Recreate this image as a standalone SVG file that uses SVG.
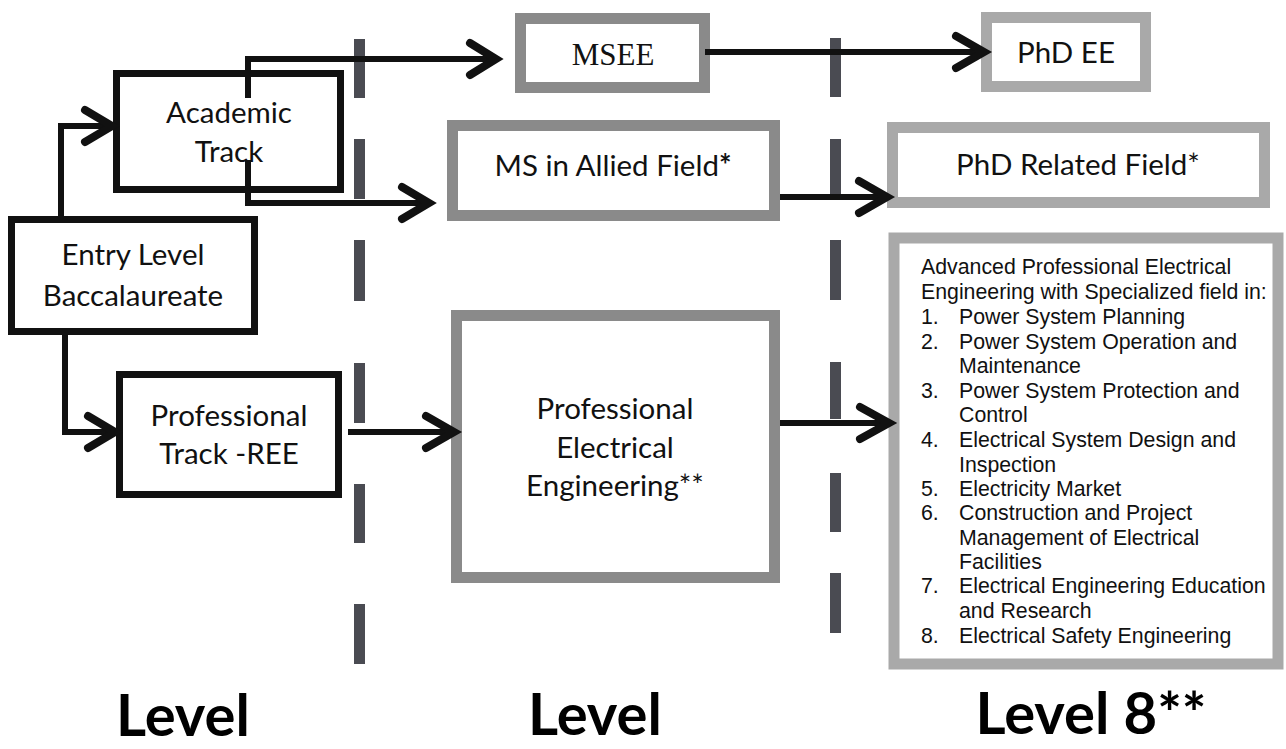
<svg xmlns="http://www.w3.org/2000/svg" width="1286" height="749" viewBox="0 0 1286 749">
<style>
.bk{fill:#fff;stroke:#111;stroke-width:7}
.gd{fill:#fff;stroke:#8a8a8a;stroke-width:11}
.gl{fill:#fff;stroke:#a9a9a9;stroke-width:11}
.t{font-family:Lato,"Liberation Sans",sans-serif;font-size:29.5px;fill:#111;text-anchor:middle}
.ts{font-family:"Liberation Serif",serif;font-size:31px;fill:#111;text-anchor:middle}
.ta{font-family:"Liberation Sans",Arial,sans-serif;font-size:21.3px;fill:#111}
.lv{font-family:Lato,"Liberation Sans",sans-serif;font-weight:bold;font-size:58px;fill:#000;text-anchor:middle}
.ln{fill:none;stroke:#111;stroke-width:6}
.ah{fill:none;stroke:#111;stroke-width:8;stroke-linecap:round;stroke-linejoin:miter}
.dash{fill:#4a4b52}
</style>
<rect width="1286" height="749" fill="#fff"/>
<g id="dividers">
<rect class="dash" x="354" y="39" width="11" height="59"/>
<rect class="dash" x="354" y="139" width="11" height="60"/>
<rect class="dash" x="354" y="240" width="11" height="61"/>
<rect class="dash" x="354" y="363" width="11" height="60"/>
<rect class="dash" x="354" y="484" width="11" height="59"/>
<rect class="dash" x="354" y="604" width="11" height="60"/>
<rect class="dash" x="830" y="38" width="11" height="59"/>
<rect class="dash" x="830" y="139" width="11" height="61"/>
<rect class="dash" x="830" y="240" width="11" height="60"/>
<rect class="dash" x="830" y="362" width="11" height="57"/>
<rect class="dash" x="830" y="473" width="11" height="59"/>
<rect class="dash" x="830" y="573" width="11" height="60"/>
</g>
<g id="academic">
<rect class="bk" x="116.5" y="73.5" width="224" height="116"/>
<text class="t" x="229" y="123">Academic</text>
<text class="t" x="229" y="162">Track</text>
</g>
<g id="entry">
<rect class="bk" x="11.5" y="219.5" width="243" height="112"/>
<text class="t" x="133" y="265">Entry Level</text>
<text class="t" x="133" y="306">Baccalaureate</text>
</g>
<g id="professional-track">
<rect class="bk" x="119.5" y="374.5" width="219" height="120"/>
<text class="t" x="229" y="426">Professional</text>
<text class="t" x="229" y="464">Track -REE</text>
</g>
<g id="msee">
<rect class="gd" x="520.5" y="18.5" width="184" height="69"/>
<text class="ts" x="613" y="65">MSEE</text>
</g>
<g id="ms-allied">
<rect class="gd" x="452.5" y="125.5" width="322" height="90"/>
<text class="t" x="613" y="176" font-size="31.5">MS in Allied Field<tspan font-weight="bold">*</tspan></text>
</g>
<g id="pee">
<rect class="gd" x="456.5" y="315.5" width="318" height="262"/>
<text class="t" x="615" y="419">Professional</text>
<text class="t" x="615" y="458">Electrical</text>
<text class="t" x="615" y="496">Engineering**</text>
</g>
<g id="phd-ee">
<rect class="gl" x="986.5" y="17.5" width="159" height="69"/>
<text class="t" x="1066" y="63" font-size="28.5">PhD EE</text>
</g>
<g id="phd-related">
<rect class="gl" x="892.5" y="127.5" width="372" height="75"/>
<text class="t" x="1078" y="175" font-size="30.5">PhD Related Field*</text>
</g>
<g id="advanced">
<rect class="gl" x="894" y="238" width="384" height="426"/>
<text class="ta" x="921" y="274">Advanced Professional Electrical</text>
<text class="ta" x="921" y="299">Engineering with Specialized field in:</text>
<text class="ta" x="921" y="324">1.</text><text class="ta" x="959" y="324">Power System Planning</text>
<text class="ta" x="921" y="349">2.</text><text class="ta" x="959" y="349">Power System Operation and</text>
<text class="ta" x="959" y="373">Maintenance</text>
<text class="ta" x="921" y="398">3.</text><text class="ta" x="959" y="398">Power System Protection and</text>
<text class="ta" x="959" y="422">Control</text>
<text class="ta" x="921" y="447">4.</text><text class="ta" x="959" y="447">Electrical System Design and</text>
<text class="ta" x="959" y="472">Inspection</text>
<text class="ta" x="921" y="496">5.</text><text class="ta" x="959" y="496">Electricity Market</text>
<text class="ta" x="921" y="520">6.</text><text class="ta" x="959" y="520">Construction and Project</text>
<text class="ta" x="959" y="545">Management of Electrical</text>
<text class="ta" x="959" y="569">Facilities</text>
<text class="ta" x="921" y="593">7.</text><text class="ta" x="959" y="593">Electrical Engineering Education</text>
<text class="ta" x="959" y="618">and Research</text>
<text class="ta" x="921" y="643">8.</text><text class="ta" x="959" y="643">Electrical Safety Engineering</text>
</g>
<g id="connectors">
<path class="ln" d="M61,216 V126 H110"/>
<path class="ah" d="M85,110 L112,126 L85,142"/>
<path class="ln" d="M248,98 V59 H494"/>
<path class="ah" d="M470,43 L496,59 L470,75"/>
<path class="ln" d="M248,160 V203 H427"/>
<path class="ah" d="M402,187 L429,203 L402,219"/>
<path class="ln" d="M705,52 H982"/>
<path class="ah" d="M956,36 L984,52 L956,68"/>
<path class="ln" d="M780,197 H885"/>
<path class="ah" d="M859,181 L887,197 L859,213"/>
<path class="ln" d="M65,335 V432 H113"/>
<path class="ah" d="M88,416 L115,432 L88,448"/>
<path class="ln" d="M348,432 H452"/>
<path class="ah" d="M426,416 L454,432 L426,448"/>
<path class="ln" d="M780,423 H887"/>
<path class="ah" d="M860,407 L889,423 L860,439"/>
</g>
<g id="levels">
<text class="lv" x="183" y="736">Level</text>
<text class="lv" x="595" y="735">Level</text>
<text class="lv" x="1091" y="734" font-size="59">Level 8**</text>
</g>
</svg>
